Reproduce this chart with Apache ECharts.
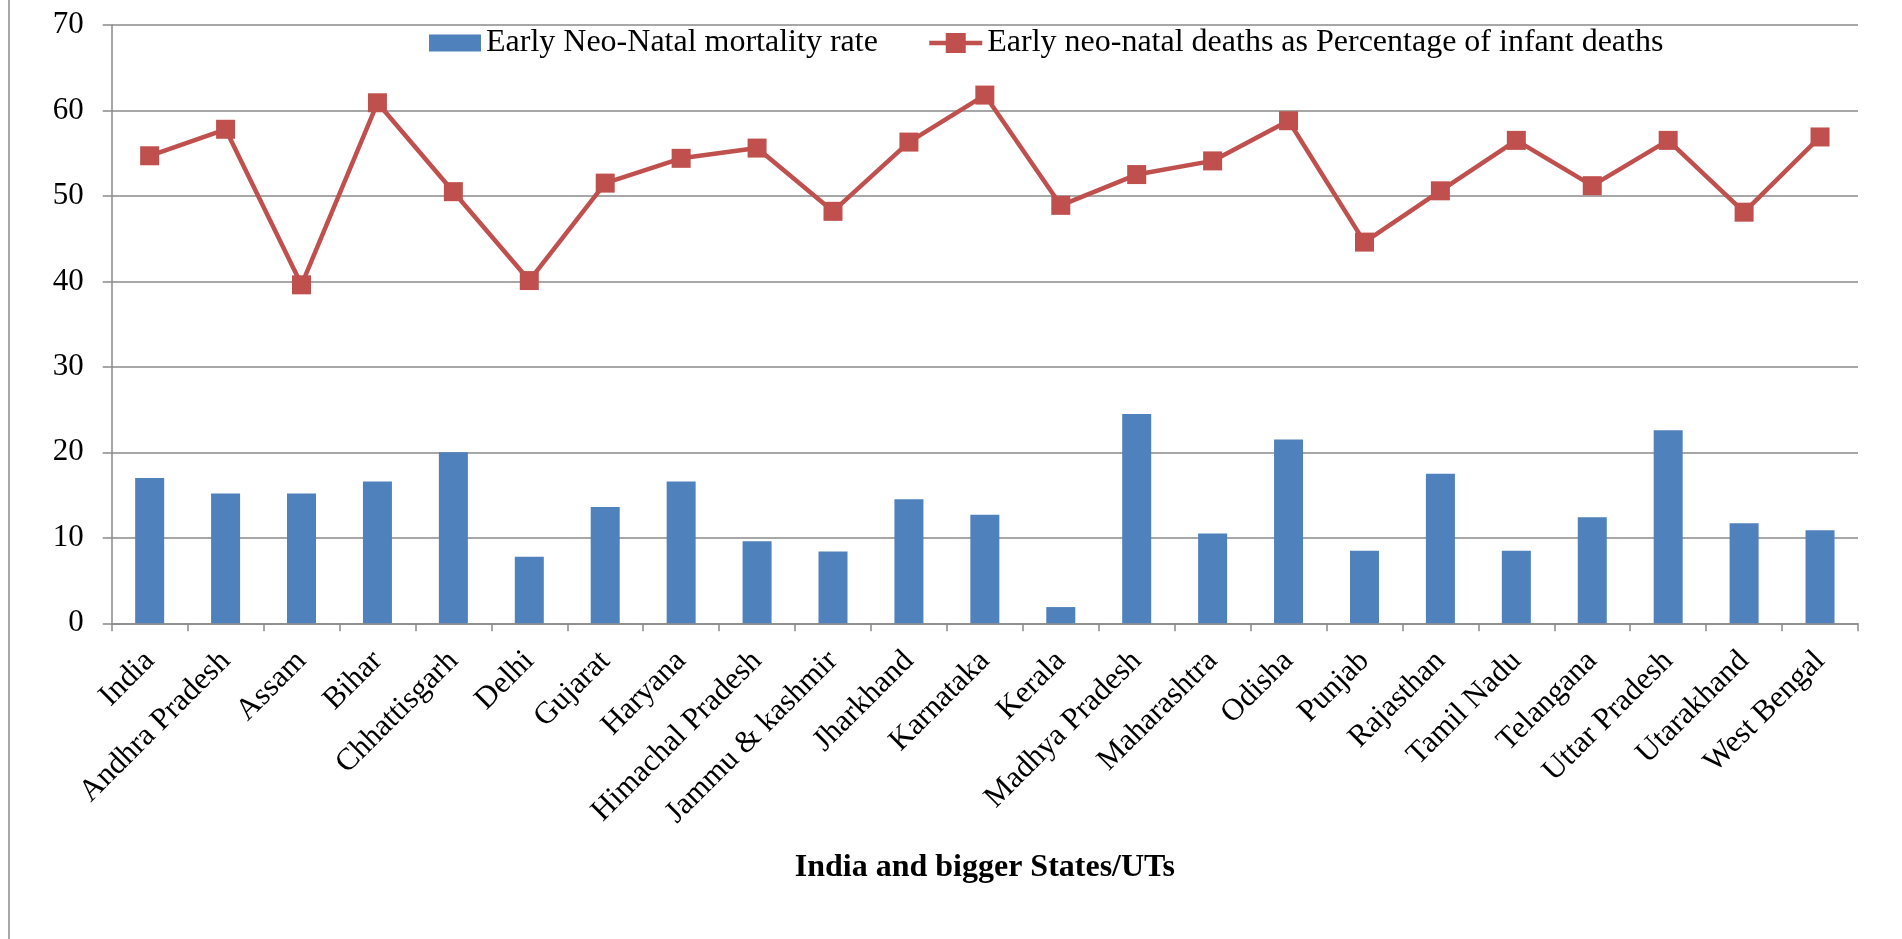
<!DOCTYPE html>
<html>
<head>
<meta charset="utf-8">
<script src="https://cdn.jsdelivr.net/npm/echarts@6/dist/echarts.min.js"></script>
<style>
html,body{margin:0;padding:0;background:#fff;}
#chart{width:1902px;height:939px;}
</style>
</head>
<body>
<div id="chart"></div>
<script>
const categories = ['India','Andhra Pradesh','Assam','Bihar','Chhattisgarh','Delhi','Gujarat','Haryana','Himachal Pradesh','Jammu & kashmir','Jharkhand','Karnataka','Kerala','Madhya Pradesh','Maharashtra','Odisha','Punjab','Rajasthan','Tamil Nadu','Telangana','Uttar Pradesh','Utarakhand','West Bengal'];
const enmrValues = [17.0,15.2,15.2,16.6,20.0,7.8,13.6,16.6,9.6,8.4,14.5,12.7,1.9,24.5,10.5,21.5,8.5,17.5,8.5,12.4,22.6,11.7,10.9];
const pctValues = [54.7,57.8,39.6,60.9,50.5,40.1,51.5,54.4,55.6,48.2,56.3,61.8,48.9,52.5,54.1,58.8,44.6,50.6,56.5,51.2,56.5,48.1,56.9];
const yTicks = {min:0, max:70, interval:10};
const seriesNames = ['Early Neo-Natal mortality rate','Early neo-natal deaths as Percentage of infant deaths'];
const xTitle = 'India and bigger States/UTs';

const font = 'Liberation Serif';
const gridGray = '#8a8a8a';
const chart = echarts.init(document.getElementById('chart'));
chart.setOption({
  animation:false,
  backgroundColor:'#fff',
  textStyle:{fontFamily:font},
  graphic:[{type:'line',shape:{x1:9,y1:0,x2:9,y2:939},style:{stroke:'#8a8a8a',lineWidth:1.5},silent:true}],
  legend:[{
    left:429, top:27, padding:0, itemWidth:52, itemHeight:17,
    textStyle:{fontFamily:font,fontSize:32,color:'#000'},
    data:[{name:seriesNames[0],icon:'rect'}]
  },{
    left:927, top:27, padding:0, itemWidth:53, itemHeight:25,
    textStyle:{fontFamily:font,fontSize:32,color:'#000'},
    lineStyle:{width:4.5},
    data:[{name:seriesNames[1]}]
  }],
  grid:{left:111.7,right:44,top:25,bottom:315.7,containLabel:false},
  xAxis:{
    type:'category', data:categories, boundaryGap:true,
    name:xTitle, nameLocation:'middle', nameGap:228,
    nameTextStyle:{fontFamily:font,fontSize:32,fontWeight:'bold',color:'#000'},
    axisLine:{show:true,lineStyle:{color:gridGray,width:1.5}},
    axisTick:{show:true,length:8,interval:0,lineStyle:{color:gridGray,width:1.5}},
    axisLabel:{interval:0,rotate:45,margin:33,fontFamily:font,fontSize:31,color:'#000'},
    splitLine:{show:false}
  },
  yAxis:{
    type:'value', min:yTicks.min, max:yTicks.max, interval:yTicks.interval,
    axisLine:{show:true,lineStyle:{color:gridGray,width:1.5}},
    axisTick:{show:true,length:9,lineStyle:{color:gridGray,width:1.5}},
    axisLabel:{margin:28,fontFamily:font,fontSize:31,color:'#000'},
    splitLine:{show:true,lineStyle:{color:gridGray,width:1.5}}
  },
  series:[
    {name:seriesNames[0],type:'bar',data:enmrValues,barWidth:29,itemStyle:{color:'#4F81BD'},z:2},
    {name:seriesNames[1],type:'line',data:pctValues,symbol:'rect',symbolSize:19,
     lineStyle:{color:'#C0504D',width:4.5},itemStyle:{color:'#C0504D'},z:3}
  ]
});
</script>
</body>
</html>
